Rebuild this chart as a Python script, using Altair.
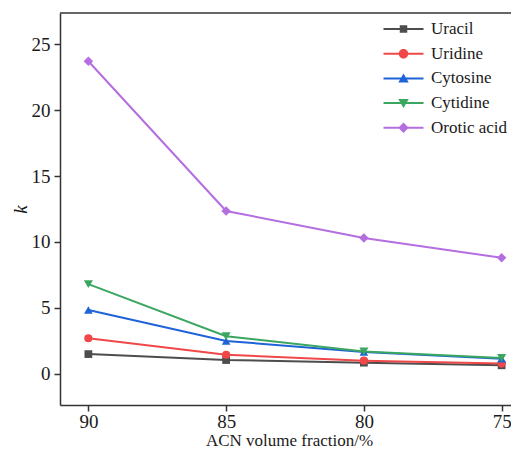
import altair as alt
import pandas as pd

# ---- data ----
acn = [90, 85, 80, 75]
series = ["Uracil", "Uridine", "Cytosine", "Cytidine", "Orotic acid"]
uracil = [1.5, 1.05, 0.85, 0.65]
uridine = [2.7, 1.45, 1.0, 0.78]
cytosine = [4.85, 2.5, 1.65, 1.15]
cytidine = [6.8, 2.85, 1.7, 1.2]
orotic = [23.7, 12.35, 10.3, 8.8]
values = [uracil, uridine, cytosine, cytidine, orotic]

colors = ["#4d4d4d", "#f04848", "#1f63d8", "#3aa660", "#b46ee0"]
plot_shapes = ["square", "circle", "triangle-up", "triangle-down", "diamond"]
bar = "M-4,-0.2H4V0.2H-4Z"
legend_shapes = [
    bar + "M-0.75,-0.75H0.75V0.75H-0.75Z",
    bar + "M-0.95,0A0.95,0.95 0 1,1 0.95,0A0.95,0.95 0 1,1 -0.95,0Z",
    bar + "M0,-1L1.05,0.8H-1.05Z",
    bar + "M0,1L-1.05,-0.8H1.05Z",
    bar + "M0,-1.05L1.05,0L0,1.05L-1.05,0Z",
]
sizes = [60, 90, 120, 120, 130]

rows = []
for s, vals in zip(series, values):
    for x, v in zip(acn, vals):
        rows.append({"acn": x, "k": v, "series": s})
df = pd.DataFrame(rows)

W, H = 451, 392
FONT = "Liberation Serif"
TXT = "#1a1a1a"
AX = "#333333"

common_axis = dict(grid=False, domainColor=AX, domainWidth=1.5, tickColor=AX, tickWidth=1.5,
                   tickSize=6, labelFont=FONT, labelFontSize=19, labelColor=TXT,
                   titleFont=FONT, titleColor=TXT, titleFontWeight="normal")

xenc = alt.X("acn:Q",
             scale=alt.Scale(domain=[91.03, 74.66], nice=False, zero=False),
             axis=alt.Axis(values=acn, title="ACN volume fraction/%", labelPadding=1,
                           titleX=229, titleY=40, titleBaseline="alphabetic",
                           titleFontSize=17, **common_axis))
yenc = alt.Y("k:Q",
             scale=alt.Scale(domain=[-2.36, 27.36], nice=False, zero=False),
             axis=alt.Axis(values=[0, 5, 10, 15, 20, 25], title="k", labelPadding=4,
                           titleFontStyle="italic",
                           titleFontSize=19, titleX=-40, titleY=196, titleAngle=-90,
                           titleAlign="center", titleBaseline="middle", **common_axis))

base = alt.Chart(df)

lines = base.mark_line(strokeWidth=2).encode(
    x=xenc, y=yenc, detail="series:N",
    color=alt.Color("series:N", scale=alt.Scale(domain=series, range=colors), legend=None),
)

pts = base.mark_point(filled=True, opacity=1).encode(
    x=xenc, y=yenc,
    color=alt.Color("series:N", scale=alt.Scale(domain=series, range=colors), legend=None),
    shape=alt.Shape("series:N", scale=alt.Scale(domain=series, range=plot_shapes), legend=None),
    size=alt.Size("series:N", scale=alt.Scale(domain=series, range=sizes), legend=None),
)

legend_opts = dict(title=None, orient="none", legendX=335, legendY=7.5,
                   symbolOpacity=1, symbolSize=100, symbolStrokeWidth=0,
                   labelFont=FONT, labelFontSize=17, labelColor=TXT,
                   labelOffset=19, rowPadding=6.7, padding=0)

leg = base.mark_point(filled=True, opacity=0).encode(
    x=xenc, y=yenc,
    color=alt.Color("series:N", scale=alt.Scale(domain=series, range=colors),
                    legend=alt.Legend(**legend_opts)),
    shape=alt.Shape("series:N", scale=alt.Scale(domain=series, range=legend_shapes),
                    legend=alt.Legend(**legend_opts)),
)

top = alt.Chart(pd.DataFrame({"a": [0]})).mark_rule(color=AX, strokeWidth=1.5).encode(
    x=alt.value(0), x2=alt.value(W), y=alt.value(0)
)

chart = alt.layer(lines, pts, leg, top).resolve_scale(
    color="independent", shape="independent", size="independent"
).properties(
    width=W, height=H,
    autosize=alt.AutoSizeParams(type="none"),
    padding={"left": 52, "top": 5, "right": 0, "bottom": 43},
).configure_view(stroke=None)

chart.save("out.html", embed_options={"renderer": "svg", "actions": False})
